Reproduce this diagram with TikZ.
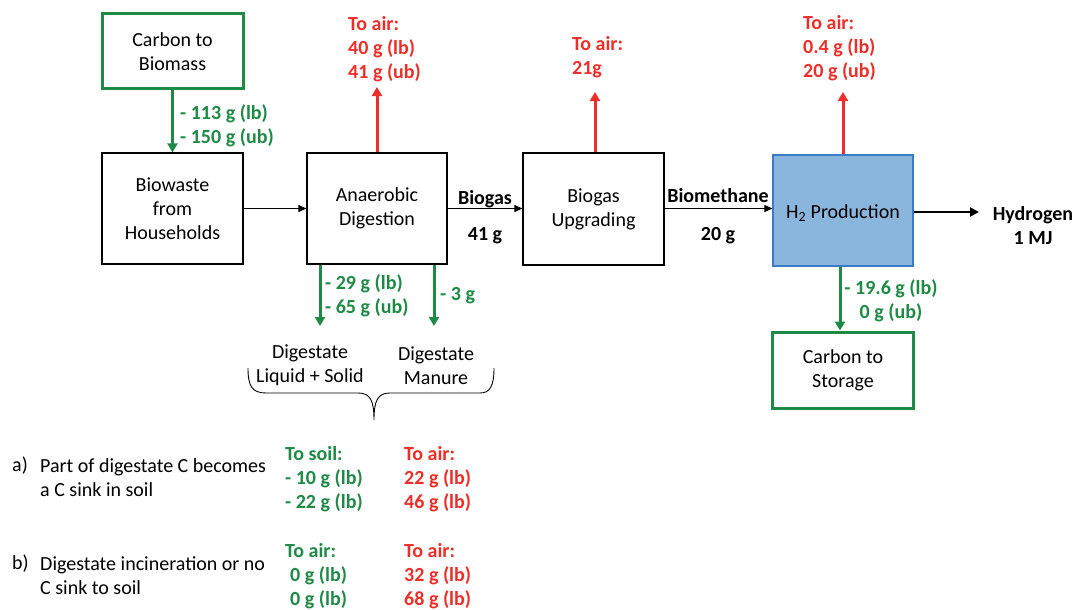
\documentclass[tikz,border=0pt]{standalone}
\usepackage{fontspec}
\setmainfont{Carlito}
\usetikzlibrary{arrows.meta}
\definecolor{cgreen}{HTML}{1F8A46}
\definecolor{cred}{HTML}{EC2F2A}
\definecolor{bfill}{HTML}{8AB6DE}
\definecolor{bline}{HTML}{3A7BC8}
\tikzset{
  txt/.style={font=\fontsize{20}{24}\selectfont, inner sep=0pt},
  box/.style={txt, draw=black, line width=1.2pt, align=center, minimum width=141pt,
    execute at begin node={\rule{0pt}{19.5pt}}},
  gbox/.style={box, draw=cgreen, line width=3pt},
  hbox/.style={box, draw=bline, fill=bfill, line width=1.2pt},
  glab/.style={txt, text=cgreen, font=\fontsize{20}{24}\selectfont\bfseries, align=left},
  rlab/.style={txt, text=cred, font=\fontsize{20}{24}\selectfont\bfseries, align=left},
  blab/.style={txt, font=\fontsize{20}{24}\selectfont\bfseries, align=center},
  thinarr/.style={line width=0.9pt, -{Triangle[length=8pt,width=7pt]}},
  redarr/.style={draw=cred, line width=3pt, -{Triangle[length=9pt,width=10pt]}},
  grnarr/.style={draw=cgreen, line width=3pt, -{Triangle[length=9pt,width=10pt]}},
  harr/.style={line width=2.2pt, -{Triangle[length=9pt,width=9pt]}},
}
\begin{document}
\begin{tikzpicture}[x=1pt,y=-1pt]
\useasboundingbox[fill=white] (0,0) rectangle (1074,610);

% boxes
\node[gbox, minimum height=75pt] (cb) at (172.5,51.5) {Carbon to\\Biomass};
\node[box, minimum height=111pt] (bw) at (172.5,208.5) {Biowaste\\from\\Households};
\node[box, minimum width=140pt, minimum height=111pt] (ad) at (377,208.5) {Anaerobic\\Digestion};
\node[box, minimum height=112pt] (bu) at (593.5,209) {Biogas\\Upgrading};
\node[hbox, minimum width=140pt, minimum height=111pt] (h2) at (843,210.5) {H\textsubscript{2} Production};
\node[gbox, minimum height=76pt] (cs) at (843,370) {Carbon to\\Storage};

% free ends
\coordinate (adup) at (377,87);
\coordinate (buup) at (595,92);
\coordinate (h2up) at (843,92);
\coordinate (hyd) at (979,212);
\coordinate (dl) at (320,326);
\coordinate (dm) at (434,326);

% connectors
\draw[grnarr] (cb.south) -- (bw.north);
\draw[thinarr] (bw.east) -- (ad.west);
\draw[thinarr] (ad.east) -- (bu.west |- ad.east);
\draw[thinarr] (bu.east |- ad.east) -- (h2.west |- ad.east);
\draw[harr] (h2.east |- hyd) -- (hyd);
\draw[redarr] (ad.north) -- (adup);
\draw[redarr] (bu.north -| buup) -- (buup);
\draw[redarr] (h2.north) -- (h2up);
\draw[grnarr] (ad.south -| dl) -- (dl);
\draw[grnarr] (ad.south -| dm) -- (dm);
\draw[grnarr] (h2.south -| 840,0) -- (cs.north -| 840,0);

% labels
\node[glab, anchor=west] (l1) at (180,126) {- 113 g (lb)\\- 150 g (ub)};
\node[rlab, anchor=west] (l2) at (348,49.5) {To air:\\40 g (lb)\\41 g (ub)};
\node[rlab, anchor=west] (l3) at (572,57) {To air:\\21g};
\node[rlab, anchor=west] (l4) at (803,48.5) {To air:\\0.4 g (lb)\\20 g (ub)};
\node[blab] (l5) at (485,199) {Biogas};
\node[blab] (l6) at (485,236) {41 g};
\node[blab] (l7) at (718,196) {Biomethane};
\node[blab] (l8) at (718,236) {20 g};
\node[blab] (l9) at (1033,225.5) {Hydrogen\\1 MJ};
\node[glab, anchor=west] (l10) at (325,295.5) {- 29 g (lb)\\- 65 g (ub)};
\node[glab, anchor=west] (l11) at (440,295.5) {- 3 g};
\node[glab, align=center] (l12) at (891,300.5) {- 19.6 g (lb)\\0 g (ub)};

\node[txt, align=center] (d1) at (310,365) {Digestate\\Liquid + Solid};
\node[txt, align=center] (d2) at (436,366) {Digestate\\Manure};

% brace
\draw[line width=0.9pt, line join=round] (248,368) .. controls (248,386) and (252,393) .. (266,393)
  -- (358,393) .. controls (370,393) and (374,400) .. (374,420)
  .. controls (374,400) and (378,393) .. (390,393)
  -- (480,393) .. controls (490,393) and (494,386) .. (494,368);

% scenarios
\node[txt, anchor=west] (a1) at (12,466) {a)};
\node[txt, anchor=west, align=left] (a2) at (40,477.5) {Part of digestate C becomes\\a C sink in soil};
\node[glab, anchor=west] (a3) at (285,479.5) {To soil:\\- 10 g (lb)\\- 22 g (lb)};
\node[rlab, anchor=west] (a4) at (404,479.5) {To air:\\22 g (lb)\\46 g (lb)};
\node[txt, anchor=west] (b1) at (12,564) {b)};
\node[txt, anchor=west, align=left] (b2) at (40,576) {Digestate incineration or no\\C sink to soil};
\node[glab, anchor=west] (b3) at (285,576.5) {To air:\\\hspace*{5pt}0 g (lb)\\\hspace*{5pt}0 g (lb)};
\node[rlab, anchor=west] (b4) at (404,576.5) {To air:\\32 g (lb)\\68 g (lb)};
\end{tikzpicture}
\end{document}
